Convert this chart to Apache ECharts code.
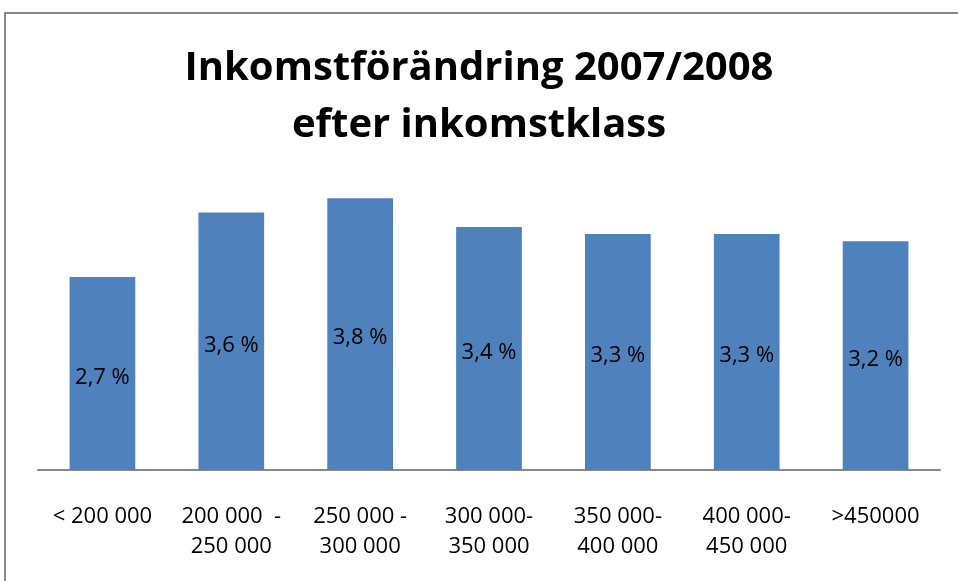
<!DOCTYPE html>
<html>
<head>
<meta charset="utf-8">
<script src="https://cdn.jsdelivr.net/npm/echarts@6/dist/echarts.min.js"></script>
<style>
  html, body { margin: 0; padding: 0; background: #fff; }
  #chart { width: 958px; height: 581px; }
</style>
</head>
<body>
<div id="chart"></div>
<script>
var categories = ['< 200 000', '200 000  -\n250 000', '250 000 -\n300 000', '300 000-\n350 000',
                  '350 000-\n400 000', '400 000-\n450 000', '>450000'];
var values = [2.7, 3.6, 3.8, 3.4, 3.3, 3.3, 3.2];

var chart = echarts.init(document.getElementById('chart'));

var option = {
    backgroundColor: '#fff',
    title: {
        text: 'Inkomstförändring 2007/2008\nefter inkomstklass',
        left: 'center',
        top: 35,
        textStyle: {
            fontFamily: 'Open Sans',
            fontWeight: 'bold',
            fontSize: 40,
            lineHeight: 57,
            color: '#000'
        }
    },
    graphic: [{
        type: 'rect',
        shape: { x: 5, y: 13, width: 1000, height: 700 },
        style: { fill: 'none', stroke: '#888', lineWidth: 2 },
        silent: true
    }],
    grid: { left: 38, right: 18, top: 184, bottom: 111, containLabel: false },
    xAxis: {
        type: 'category',
        data: categories,
        axisLine: { lineStyle: { color: '#888', width: 2 } },
        axisTick: { show: false },
        axisLabel: {
            interval: 0,
            margin: 32,
            fontFamily: 'Open Sans',
            fontSize: 22,
            lineHeight: 30,
            color: '#000'
        }
    },
    yAxis: {
        type: 'value',
        min: 0,
        max: 4,
        show: false
    },
    series: [{
        type: 'bar',
        data: values,
        barWidth: '51%',
        itemStyle: { color: '#4F81BD' },
        label: {
            show: true,
            position: 'inside',
            offset: [0, 4],
            formatter: function (p) { return String(p.value).replace('.', ',') + ' %'; },
            fontFamily: 'Open Sans',
            fontSize: 22,
            color: '#000'
        }
    }]
};

chart.setOption(option);
</script>
</body>
</html>
